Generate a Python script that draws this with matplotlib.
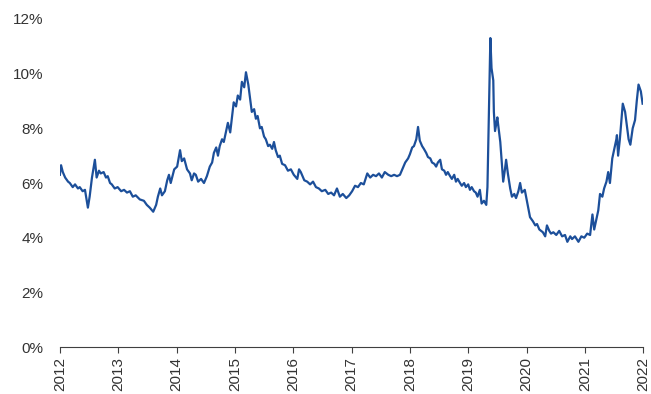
import matplotlib
matplotlib.use("Agg")
import matplotlib.pyplot as plt
from matplotlib.ticker import FuncFormatter

plt.rcParams['font.family'] = ['Liberation Sans', 'DejaVu Sans']

# decimal years and values (%)
years = [
    2012.00, 2012.02, 2012.05, 2012.09, 2012.14, 2012.17, 2012.22, 2012.26, 2012.31, 2012.34,
    2012.39, 2012.43, 2012.48, 2012.51, 2012.55, 2012.60, 2012.63, 2012.67, 2012.70, 2012.75,
    2012.79, 2012.82, 2012.86, 2012.89, 2012.94, 2012.99, 2013.05, 2013.10, 2013.15, 2013.20,
    2013.25, 2013.30, 2013.37, 2013.44, 2013.49, 2013.54, 2013.60, 2013.65, 2013.68, 2013.72,
    2013.75, 2013.80, 2013.84, 2013.87, 2013.90, 2013.96, 2014.01, 2014.06, 2014.09, 2014.13,
    2014.18, 2014.23, 2014.26, 2014.30, 2014.33, 2014.37, 2014.42, 2014.47, 2014.52, 2014.57,
    2014.61, 2014.64, 2014.68, 2014.71, 2014.74, 2014.78, 2014.81, 2014.85, 2014.88, 2014.92,
    2014.95, 2014.98, 2015.02, 2015.05, 2015.09, 2015.12, 2015.16, 2015.19, 2015.23, 2015.26,
    2015.29, 2015.33, 2015.36, 2015.39, 2015.43, 2015.46, 2015.50, 2015.53, 2015.57, 2015.60,
    2015.64, 2015.67, 2015.70, 2015.74, 2015.77, 2015.81, 2015.86, 2015.91, 2015.96, 2016.01,
    2016.07, 2016.10, 2016.13, 2016.19, 2016.24, 2016.29, 2016.34, 2016.39, 2016.44, 2016.49,
    2016.55, 2016.60, 2016.65, 2016.70, 2016.75, 2016.80, 2016.85, 2016.91, 2016.96, 2017.01,
    2017.06, 2017.11, 2017.16, 2017.21, 2017.27, 2017.32, 2017.37, 2017.42, 2017.47, 2017.52,
    2017.57, 2017.63, 2017.68, 2017.73, 2017.78, 2017.83, 2017.88, 2017.92, 2017.97, 2018.00,
    2018.04, 2018.07, 2018.11, 2018.14, 2018.17, 2018.21, 2018.24, 2018.28, 2018.31, 2018.35,
    2018.38, 2018.42, 2018.45, 2018.48, 2018.52, 2018.55, 2018.59, 2018.62, 2018.65, 2018.69,
    2018.72, 2018.76, 2018.79, 2018.82, 2018.86, 2018.89, 2018.93, 2018.96, 2019.00, 2019.03,
    2019.06, 2019.10, 2019.13, 2019.16, 2019.20, 2019.23, 2019.27, 2019.31, 2019.33, 2019.35,
    2019.38, 2019.40, 2019.43, 2019.44, 2019.46, 2019.50, 2019.51, 2019.55, 2019.58, 2019.60,
    2019.63, 2019.65, 2019.68, 2019.72, 2019.75, 2019.79, 2019.82, 2019.86, 2019.89, 2019.92,
    2019.97, 2020.01, 2020.06, 2020.11, 2020.15, 2020.18, 2020.22, 2020.25, 2020.28, 2020.32,
    2020.35, 2020.39, 2020.42, 2020.46, 2020.51, 2020.56, 2020.61, 2020.66, 2020.70, 2020.75,
    2020.78, 2020.83, 2020.89, 2020.94, 2020.99, 2021.04, 2021.09, 2021.13, 2021.16, 2021.19,
    2021.23, 2021.26, 2021.30, 2021.33, 2021.37, 2021.40, 2021.43, 2021.47, 2021.50, 2021.54,
    2021.55, 2021.57, 2021.60, 2021.63, 2021.65, 2021.69, 2021.72, 2021.75, 2021.78, 2021.82,
    2021.86, 2021.89, 2021.92, 2021.96, 2021.99,
]
values = [
    6.30, 6.65, 6.40, 6.20, 6.05, 6.00, 5.85, 5.95, 5.80, 5.85,
    5.70, 5.75, 5.10, 5.50, 6.20, 6.85, 6.20, 6.45, 6.35, 6.40,
    6.20, 6.25, 6.00, 5.95, 5.80, 5.85, 5.70, 5.75, 5.65, 5.70,
    5.50, 5.55, 5.40, 5.35, 5.20, 5.10, 4.95, 5.20, 5.50, 5.80,
    5.55, 5.70, 6.10, 6.30, 6.00, 6.50, 6.60, 7.20, 6.80, 6.90,
    6.50, 6.35, 6.10, 6.35, 6.30, 6.05, 6.15, 6.00, 6.25, 6.60,
    6.75, 7.10, 7.30, 7.00, 7.35, 7.60, 7.50, 7.90, 8.20, 7.85,
    8.40, 8.95, 8.80, 9.20, 9.05, 9.70, 9.50, 10.05, 9.60, 9.10,
    8.60, 8.70, 8.35, 8.45, 8.00, 8.05, 7.70, 7.60, 7.35, 7.40,
    7.25, 7.50, 7.20, 6.95, 7.00, 6.70, 6.65, 6.45, 6.50, 6.30,
    6.15, 6.50, 6.40, 6.10, 6.05, 5.95, 6.05, 5.85, 5.80, 5.70,
    5.75, 5.60, 5.65, 5.55, 5.80, 5.50, 5.60, 5.45, 5.55, 5.70,
    5.90, 5.85, 6.00, 5.95, 6.35, 6.20, 6.30, 6.25, 6.35, 6.20,
    6.40, 6.30, 6.25, 6.30, 6.25, 6.30, 6.55, 6.75, 6.90, 7.05,
    7.30, 7.35, 7.60, 8.05, 7.55, 7.35, 7.25, 7.10, 6.95, 6.90,
    6.75, 6.70, 6.60, 6.75, 6.85, 6.50, 6.45, 6.30, 6.40, 6.25,
    6.15, 6.30, 6.05, 6.15, 6.00, 5.90, 6.00, 5.85, 5.95, 5.75,
    5.85, 5.70, 5.65, 5.50, 5.75, 5.25, 5.35, 5.20, 5.85, 8.00,
    11.30, 10.20, 9.75, 8.60, 7.90, 8.40, 8.20, 7.50, 6.60, 6.05,
    6.50, 6.85, 6.35, 5.80, 5.50, 5.60, 5.45, 5.70, 6.00, 5.65,
    5.75, 5.30, 4.75, 4.60, 4.45, 4.50, 4.30, 4.25, 4.20, 4.05,
    4.45, 4.25, 4.15, 4.20, 4.10, 4.25, 4.05, 4.10, 3.85, 4.05,
    3.95, 4.05, 3.85, 4.05, 4.00, 4.15, 4.10, 4.85, 4.30, 4.60,
    5.00, 5.60, 5.50, 5.80, 6.05, 6.40, 6.00, 6.90, 7.20, 7.60,
    7.75, 7.00, 7.60, 8.40, 8.90, 8.60, 8.10, 7.60, 7.40, 8.00,
    8.30, 9.00, 9.60, 9.35, 8.90,
]
year_ticks = list(range(2012, 2023))

fig = plt.figure(figsize=(6.51, 3.94), dpi=100)
ax = fig.add_axes([0.092, 0.119, 0.896, 0.833])

ax.plot(years, values, color='#1c4f9a', linewidth=1.6)

ax.set_xlim(2012, 2022)
ax.set_ylim(0, 12)
ax.set_xticks(year_ticks)
ax.set_xticklabels([str(y) for y in year_ticks], rotation=90)
ax.set_yticks(range(0, 13, 2))
ax.yaxis.set_major_formatter(FuncFormatter(lambda v, p: '%d%%' % v))

for side in ['top', 'right', 'left']:
    ax.spines[side].set_visible(False)
ax.spines['bottom'].set_color('#404040')
ax.tick_params(axis='x', direction='out', length=4, color='#404040',
               labelsize=11, labelcolor='#333333', pad=3)
ax.tick_params(axis='y', length=0, labelsize=11, labelcolor='#333333', pad=12)

fig.savefig('out.png', dpi=100)
